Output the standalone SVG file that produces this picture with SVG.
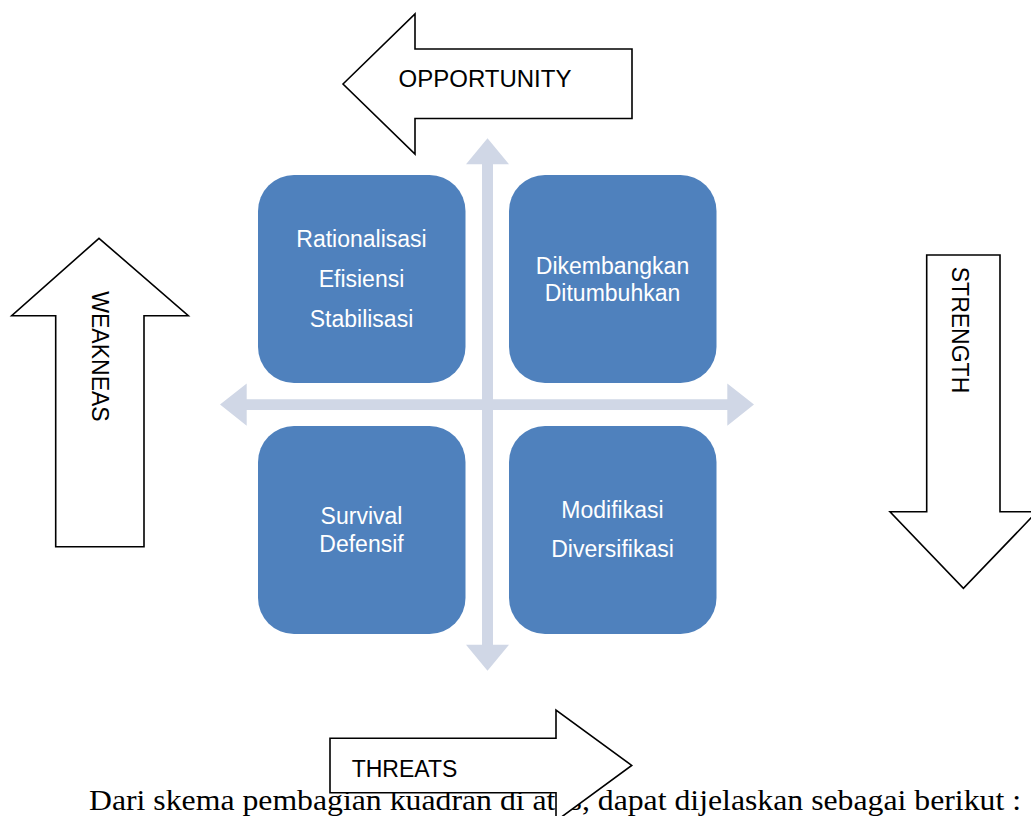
<svg xmlns="http://www.w3.org/2000/svg" width="1031" height="816" viewBox="0 0 1031 816">
  <style>
    .big { fill: #ffffff; stroke: #000000; stroke-width: 1.6; stroke-linejoin: miter; }
    .lbl { font-family: "Liberation Sans", Arial, sans-serif; font-size: 23px; fill: #000000; }
    .box { fill: #4F81BD; }
    .btxt { font-family: "Liberation Sans", Arial, sans-serif; font-size: 23px; fill: #ffffff; text-anchor: middle; }
    .cross { fill: #D0D7E6; }
    .body { font-family: "Liberation Serif", "Times New Roman", serif; font-size: 29px; fill: #000000; }
  </style>
  <rect x="0" y="0" width="1031" height="816" fill="#ffffff"/>

  <text class="body" x="89" y="810" textLength="932" lengthAdjust="spacingAndGlyphs">Dari skema pembagian kuadran di atas, dapat dijelaskan sebagai berikut :</text>

  <g id="connectors">
    <polygon class="cross" points="220,404.6 246.7,383.4 246.7,399.2 727.3,399.2 727.3,383.4 754,404.6 727.3,425.8 727.3,410 246.7,410 246.7,425.8"/>
    <polygon class="cross" points="487.5,138.3 509,164.3 493,164.3 493,644.7 509,644.7 487.5,670.7 466,644.7 482,644.7 482,164.3 466,164.3"/>
  </g>

  <g id="q-rationalisasi">
    <rect class="box" x="258" y="175" width="207.5" height="208" rx="36" ry="36"/>
    <text class="btxt" x="361.5" y="247">Rationalisasi</text>
    <text class="btxt" x="361.5" y="287">Efisiensi</text>
    <text class="btxt" x="361.5" y="327">Stabilisasi</text>
  </g>
  <g id="q-dikembangkan">
    <rect class="box" x="509" y="175" width="207.5" height="208" rx="36" ry="36"/>
    <text class="btxt" x="612.5" y="274">Dikembangkan</text>
    <text class="btxt" x="612.5" y="301">Ditumbuhkan</text>
  </g>
  <g id="q-survival">
    <rect class="box" x="258" y="426" width="207.5" height="208" rx="36" ry="36"/>
    <text class="btxt" x="361.5" y="524">Survival</text>
    <text class="btxt" x="361.5" y="552">Defensif</text>
  </g>
  <g id="q-modifikasi">
    <rect class="box" x="509" y="426" width="207.5" height="208" rx="36" ry="36"/>
    <text class="btxt" x="612.5" y="518">Modifikasi</text>
    <text class="btxt" x="612.5" y="557">Diversifikasi</text>
  </g>

  <g id="opportunity">
    <polygon class="big" points="343,84 415,14 415,49 632,49 632,118.5 415,118.5 415,154"/>
    <text class="lbl" x="485" y="87" text-anchor="middle" style="font-size:24px">OPPORTUNITY</text>
  </g>
  <g id="weakneas">
    <polygon class="big" points="99,238.3 188.3,315.7 144,315.7 144,546.7 55.7,546.7 55.7,315.7 11.7,315.7"/>
    <text class="lbl" transform="translate(92,356.5) rotate(90)" text-anchor="middle">WEAKNEAS</text>
  </g>
  <g id="strength">
    <polygon class="big" points="926.7,255 1000,255 1000,511.7 1037,511.7 963.4,588.3 890,511.7 926.7,511.7"/>
    <text class="lbl" transform="translate(952,330) rotate(90)" text-anchor="middle">STRENGTH</text>
  </g>
  <g id="threats">
    <polygon class="big" points="330,738.3 556,738.3 556,710 631.7,765.4 556,821 556,792.7 330,792.7"/>
    <text class="lbl" x="351.7" y="776.7">THREATS</text>
  </g>
</svg>
